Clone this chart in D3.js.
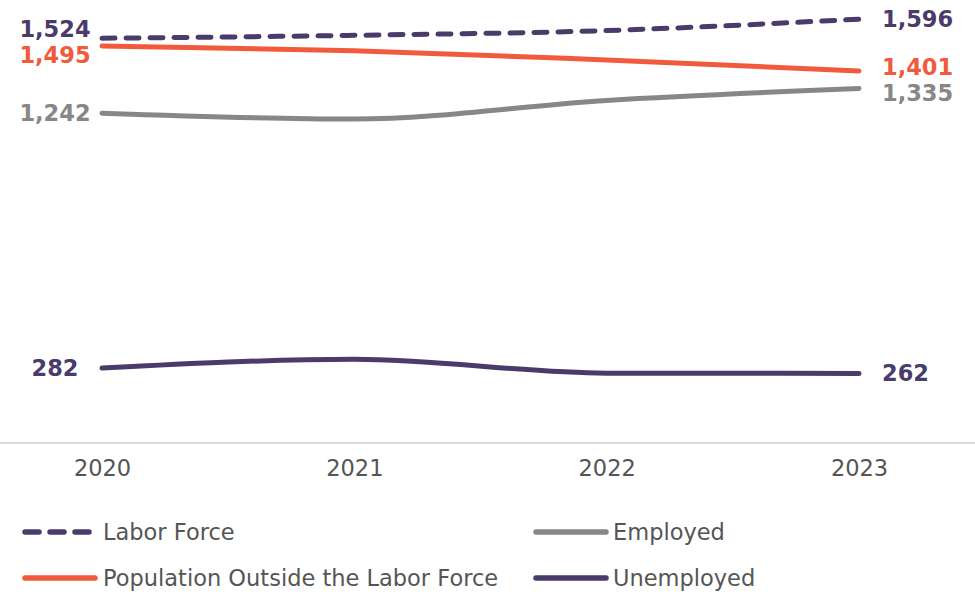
<!DOCTYPE html>
<html>
<head>
<meta charset="utf-8">
<script src="https://cdn.jsdelivr.net/npm/d3@7"></script>
<style>
  html, body { margin: 0; padding: 0; background: #fff; }
  svg { display: block; font-family: "DejaVu Sans", sans-serif; }
</style>
</head>
<body>
<svg id="chart" width="975" height="594"></svg>
<script>
// Labour market figures (thousands), 2020–2023
const years = ["2020", "2021", "2022", "2023"];
const laborForce = [1524, 1535, 1553, 1596];
const outsideLaborForce = [1495, 1477, 1442, 1401];
const employed = [1242, 1220, 1290, 1335];
const unemployed = [282, 315, 263, 262];

const seriesNames = ["Labor Force", "Population Outside the Labor Force", "Employed", "Unemployed"];
const seriesValues = [laborForce, outsideLaborForce, employed, unemployed];
const seriesColors = ["#4a3b6b", "#f15a3a", "#878787", "#4a3b6b"];
const seriesDashed = [true, false, false, false];

const series = seriesNames.map((name, i) => ({
  name, values: seriesValues[i], color: seriesColors[i], dashed: seriesDashed[i]
}));

const W = 975, H = 594;
const svg = d3.select("#chart");

const x = d3.scalePoint().domain(years).range([102, 859]);
const y = d3.scaleLinear().domain([0, 1668]).range([443, 0]);

// baseline axis
const xAxis = d3.axisBottom(x).tickSize(0).tickPadding(17);
const axisG = svg.append("g").attr("transform", "translate(0,443)").call(xAxis);
axisG.select(".domain").remove();
axisG.append("line")
  .attr("x1", 0).attr("x2", W).attr("y1", 0).attr("y2", 0)
  .attr("stroke", "#dcdcdc").attr("stroke-width", 2);
axisG.selectAll(".tick text")
  .attr("font-size", 22.5)
  .attr("font-family", "DejaVu Sans, sans-serif")
  .attr("fill", "#555");

const line = d3.line()
  .x((d, i) => x(years[i]))
  .y(d => y(d))
  .curve(d3.curveMonotoneX);

svg.append("g").selectAll("path")
  .data(series)
  .join("path")
  .attr("d", s => line(s.values))
  .attr("fill", "none")
  .attr("stroke", s => s.color)
  .attr("stroke-width", 5)
  .attr("stroke-linecap", "round")
  .attr("stroke-dasharray", s => s.dashed ? "13,11" : null);

// end labels, nudged apart where they would overlap
function spread(items, gap) {
  items.sort((a, b) => a.y - b.y);
  for (let iter = 0; iter < 50; iter++) {
    let moved = false;
    for (let i = 1; i < items.length; i++) {
      const d = items[i].y - items[i - 1].y;
      if (d < gap) {
        const push = (gap - d) / 2;
        items[i - 1].y -= push;
        items[i].y += push;
        moved = true;
      }
    }
    if (!moved) break;
  }
  return items;
}

const fmt = d3.format(",");
const leftLabels = spread(series.map(s => ({ s, v: s.values[0], y: y(s.values[0]) })), 26);
const rightLabels = spread(series.map(s => ({ s, v: s.values[s.values.length - 1], y: y(s.values[s.values.length - 1]) })), 26);

svg.append("g").selectAll("text")
  .data(leftLabels)
  .join("text")
  .attr("x", 55)
  .attr("y", d => d.y)
  .attr("text-anchor", "middle")
  .attr("dominant-baseline", "central")
  .attr("font-size", 22.5)
  .attr("font-weight", "bold")
  .attr("fill", d => d.s.color)
  .text(d => fmt(d.v));

svg.append("g").selectAll("text")
  .data(rightLabels)
  .join("text")
  .attr("x", 882)
  .attr("y", d => d.y)
  .attr("text-anchor", "start")
  .attr("dominant-baseline", "central")
  .attr("font-size", 22.5)
  .attr("font-weight", "bold")
  .attr("fill", d => d.s.color)
  .text(d => fmt(d.v));

// legend: two columns, two rows
const legendOrder = [0, 2, 1, 3];
const legend = svg.append("g").selectAll("g")
  .data(legendOrder.map(i => series[i]))
  .join("g")
  .attr("transform", (d, i) => `translate(${i % 2 === 0 ? 25 : 536},${i < 2 ? 532 : 578})`);

legend.append("line")
  .attr("x1", 0).attr("x2", d => d.dashed ? 66 : 70)
  .attr("y1", 0).attr("y2", 0)
  .attr("stroke", d => d.color)
  .attr("stroke-width", 5.5)
  .attr("stroke-linecap", "round")
  .attr("stroke-dasharray", d => d.dashed ? "14,11" : null);

legend.append("text")
  .attr("x", (d, i) => i % 2 === 0 ? 78 : 77)
  .attr("y", 0)
  .attr("dominant-baseline", "central")
  .attr("font-size", 22.5)
  .attr("fill", "#555")
  .text(d => d.name);
</script>
</body>
</html>
